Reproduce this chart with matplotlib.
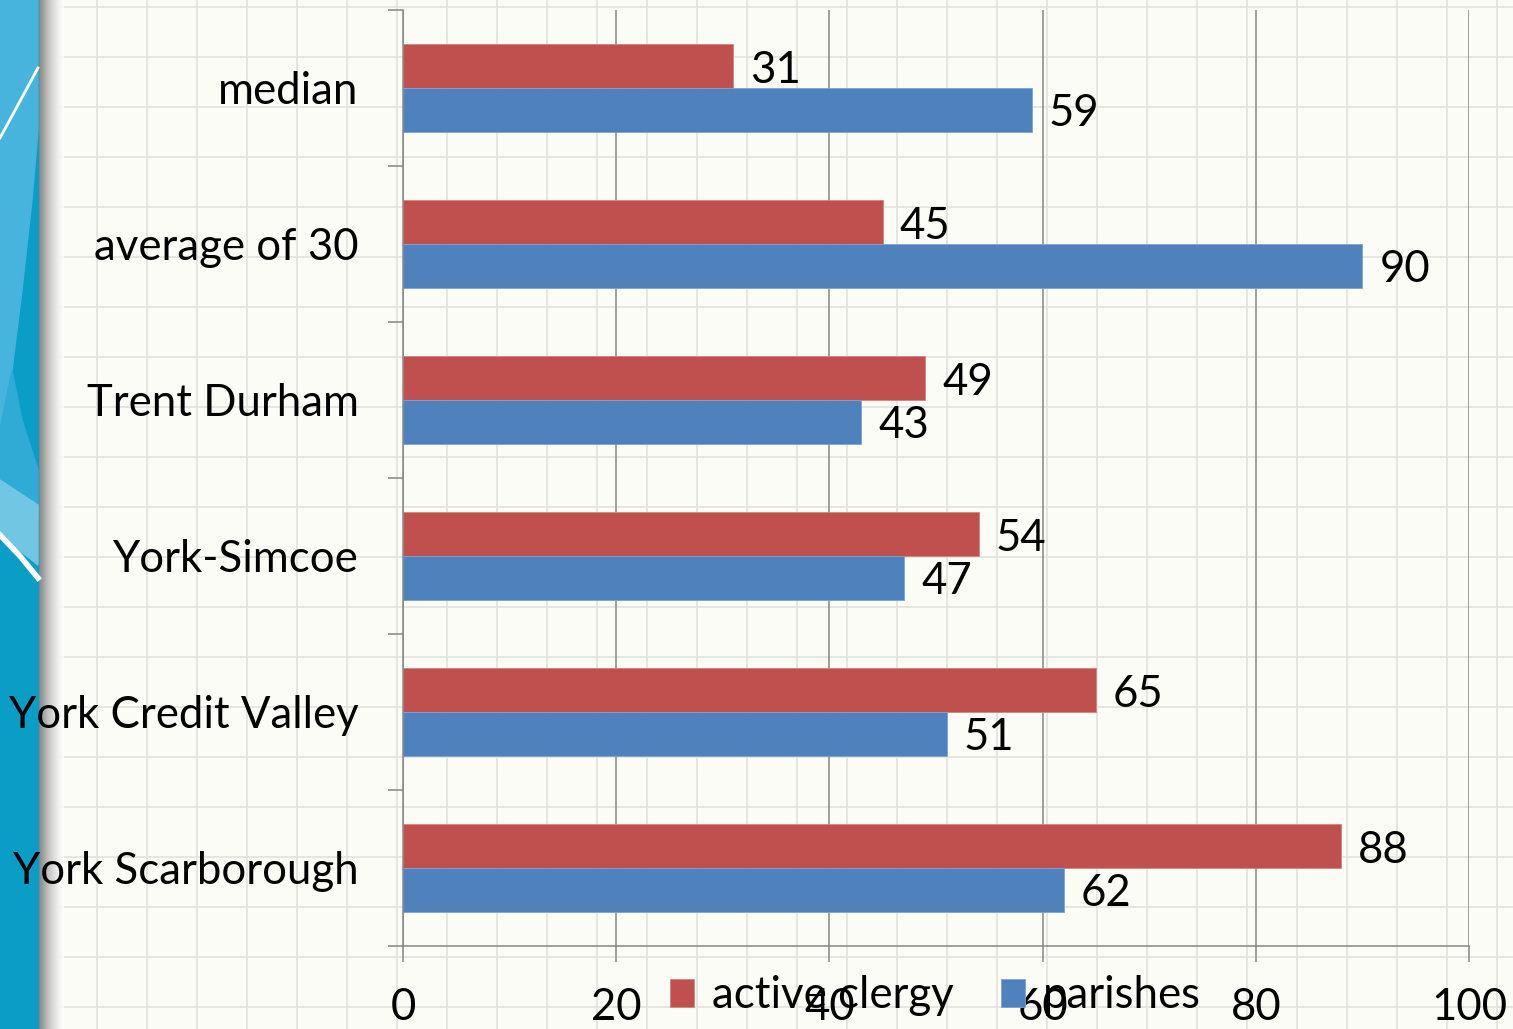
import numpy as np
import matplotlib.pyplot as plt
from matplotlib.patches import Rectangle, Polygon

# chart data
categories = ["median", "average of 30", "Trent Durham", "York-Simcoe",
              "York Credit Valley", "York Scarborough"]
active_clergy = [31, 45, 49, 54, 65, 88]
parishes = [59, 90, 43, 47, 51, 62]
x_ticks = [0, 20, 40, 60, 80, 100]

plt.rcParams['font.family'] = ['Lato', 'DejaVu Sans']
FS = 31.5
W, H = 1513, 1029

fig = plt.figure(figsize=(W / 100, H / 100), dpi=100)

# slide background: graph paper + blue strip on the left
bg = fig.add_axes([0, 0, 1, 1], zorder=0)
bg.set_xlim(0, W)
bg.set_ylim(H, 0)
bg.axis('off')
bg.add_patch(Rectangle((0, 0), W, H, color='#fcfcf7'))
for gx in range(47, W, 50):
    if gx > 60:
        bg.plot([gx, gx], [0, H], color='#e4e4df', lw=1.3)
for gy in range(7, H, 50):
    bg.plot([60, W], [gy, gy], color='#e4e4df', lw=1.3)
# shadow next to the strip
shade = np.linspace(0, 1, 64).reshape(1, -1)
bg.imshow(shade, extent=(38, 64, H, 0), cmap='Greys_r', vmin=-0.6, vmax=1,
          aspect='auto', alpha=0.9, zorder=2)
bg.add_patch(Rectangle((0, 0), 38, H, color='#0a9ec6', zorder=3))
bg.add_patch(Polygon([(0, 0), (38, 0), (38, 130), (32, 200), (22, 290),
                      (12, 370), (0, 430)], color='#46b4dc', zorder=3))
bg.add_patch(Polygon([(0, 430), (12, 370), (22, 420), (38, 470), (38, 520),
                      (0, 500)], color='#2fabd5', zorder=3))
bg.add_patch(Polygon([(0, 480), (38, 505), (38, 565), (0, 535)],
                     color='#70c6e3', zorder=3))
bg.plot([0, 38], [138, 68], color='white', lw=2, zorder=4)
bg.plot([0, 20, 38], [535, 556, 578], color='white', lw=4, zorder=4)

# chart
ax = fig.add_axes([403 / W, 1 - 946 / H, (1469 - 403) / W, (946 - 10) / H],
                  zorder=1)
ax.set_facecolor('none')

y = np.arange(len(categories))
h = 0.282
ax.barh(y - h / 2, active_clergy, height=h, color='#c0504d',
        edgecolor='#cf8583', linewidth=0.6, label='active clergy', zorder=3)
ax.barh(y + h / 2, parishes, height=h, color='#4f81bd',
        edgecolor='#7ea3d0', linewidth=0.6, label='parishes', zorder=3)

for i in range(len(categories)):
    ax.text(active_clergy[i] + 1.6, y[i] - h / 2, str(active_clergy[i]),
            va='center_baseline', ha='left', fontsize=FS, zorder=4)
    ax.text(parishes[i] + 1.6, y[i] + h / 2, str(parishes[i]),
            va='center_baseline', ha='left', fontsize=FS, zorder=4)

ax.set_xlim(0, 100)
ax.set_ylim(len(categories) - 0.5, -0.5)
ax.set_xticks(x_ticks)
ax.set_xticklabels([str(t) for t in x_ticks], fontsize=FS)
ax.set_yticks(y)
ax.set_yticklabels(categories, fontsize=FS)
ax.set_yticks(np.arange(len(categories) + 1) - 0.5, minor=True)

gc = '#868686'
ax.tick_params(axis='y', which='major', length=0, pad=32)
ax.tick_params(axis='y', which='minor', length=10.8, width=1.1, color=gc,
               direction='out')
ax.tick_params(axis='x', length=11.5, width=1.1, color=gc, pad=18)
ax.grid(axis='x', color=gc, linewidth=1.1, zorder=1)
ax.set_axisbelow(True)
for s in ['top', 'right']:
    ax.spines[s].set_visible(False)
for s in ['left', 'bottom']:
    ax.spines[s].set_color(gc)
    ax.spines[s].set_linewidth(1.1)
    ax.spines[s].set_zorder(5)

leg = fig.legend(loc='center left', bbox_to_anchor=(670 / W, 1 - 996 / H),
                 ncol=2, frameon=False, fontsize=FS, handlelength=0.55,
                 handleheight=0.6, handletextpad=0.4, columnspacing=1.1,
                 borderaxespad=0, borderpad=0)
leg.set_zorder(10)

fig.savefig('out.png', dpi=100)
